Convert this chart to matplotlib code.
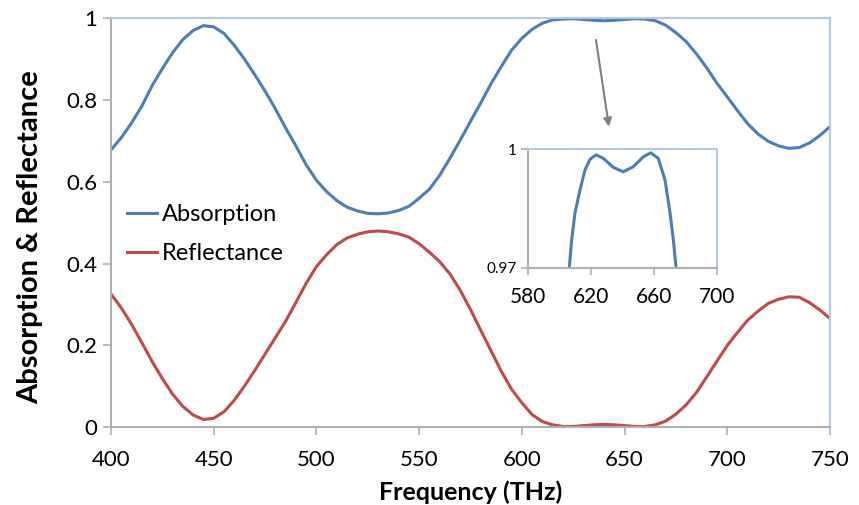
import numpy as np
import matplotlib
matplotlib.use('Agg')
import matplotlib.pyplot as plt

plt.rcParams['font.family'] = ['Lato', 'DejaVu Sans']

# frequency grid (THz) and curves
freq = list(range(400, 755, 5))

absorption = [0.678, 0.708, 0.744, 0.785, 0.835, 0.877, 0.916, 0.948, 0.970, 0.982,
              0.979, 0.963, 0.934, 0.900, 0.862, 0.822, 0.779, 0.732, 0.688, 0.642,
              0.604, 0.576, 0.554, 0.538, 0.529, 0.523, 0.522, 0.524, 0.530, 0.540,
              0.560, 0.582, 0.616, 0.658, 0.702, 0.748, 0.793, 0.840, 0.882, 0.922,
              0.951, 0.973, 0.988, 0.996, 0.998, 0.999, 0.997, 0.995, 0.994, 0.995,
              0.997, 0.999, 0.998, 0.994, 0.983, 0.965, 0.943, 0.913, 0.879, 0.841,
              0.808, 0.774, 0.742, 0.717, 0.699, 0.688, 0.682, 0.684, 0.695, 0.713,
              0.735]

reflectance = [0.326, 0.292, 0.252, 0.207, 0.161, 0.119, 0.081, 0.051, 0.030, 0.019,
               0.022, 0.038, 0.066, 0.101, 0.139, 0.179, 0.219, 0.259, 0.305, 0.352,
               0.393, 0.422, 0.447, 0.463, 0.472, 0.478, 0.480, 0.478, 0.473, 0.465,
               0.449, 0.428, 0.405, 0.375, 0.335, 0.288, 0.237, 0.187, 0.137, 0.093,
               0.060, 0.031, 0.014, 0.006, 0.002, 0.002, 0.004, 0.006, 0.007, 0.006,
               0.004, 0.002, 0.002, 0.006, 0.015, 0.032, 0.055, 0.085, 0.123, 0.162,
               0.200, 0.232, 0.262, 0.284, 0.303, 0.313, 0.319, 0.318, 0.305, 0.287,
               0.266]

# zoomed absorption peak (inset)
inset_freq = [604, 606.2, 607.7, 609.8, 613, 616.2, 619.4, 623.2, 627.8, 634.2, 640.5,
              646.9, 653.2, 657.9, 662.7, 667, 670.2, 672.3, 674, 676]
inset_abs = [0.962, 0.970, 0.977, 0.9838, 0.9897, 0.9948, 0.9975, 0.9986, 0.9977, 0.9954,
             0.9943, 0.9956, 0.9981, 0.9991, 0.9977, 0.9922, 0.9838, 0.977, 0.970, 0.962]

blue = '#4A7EBB'
red = '#BE4B48'
frame_blue = '#B4CBE6'
gray = '#AFAFAF'

fig = plt.figure(figsize=(8.59, 5.05), dpi=100)
ax = fig.add_axes([0.1292, 0.1539, 0.8370, 0.8099])

ax.plot(freq, absorption, color=blue, lw=2.2, label='Absorption', solid_joinstyle='round')
ax.plot(freq, reflectance, color=red, lw=2.2, label='Reflectance', solid_joinstyle='round')

ax.set_xlim(400, 750)
ax.set_ylim(0, 1)
ax.set_xticks(range(400, 751, 50))
ax.set_yticks([0, 0.2, 0.4, 0.6, 0.8, 1])
ax.set_yticklabels(['0', '0.2', '0.4', '0.6', '0.8', '1'])

for s in ['top', 'right']:
    ax.spines[s].set_color(frame_blue)
    ax.spines[s].set_linewidth(1.5)
for s in ['left', 'bottom']:
    ax.spines[s].set_color(gray)
    ax.spines[s].set_linewidth(1.5)
ax.tick_params(direction='out', length=6, width=1.2, color=gray, labelsize=16)
ax.tick_params(axis='x', pad=10)
ax.tick_params(axis='y', pad=4)

ax.set_xlabel('Frequency (THz)', fontsize=18, fontweight='bold', labelpad=8)
ax.set_ylabel('Absorption & Reflectance', fontsize=21, fontweight='bold')
ax.yaxis.set_label_coords(-0.094, 0.465)

ax.legend(loc='center left', bbox_to_anchor=(0.022, 0.472), frameon=False,
          fontsize=17, handlelength=1.3, handletextpad=0.2, labelspacing=0.75,
          borderpad=0, borderaxespad=0)

# arrow pointing to the inset
ax.annotate('', xy=(642.4, 0.735), xytext=(636.1, 0.947),
            arrowprops=dict(arrowstyle='-|>', color='#7F7F7F', lw=1.5,
                            mutation_scale=12, shrinkA=0, shrinkB=0))

# inset
ins = fig.add_axes([0.6147, 0.4699, 0.2200, 0.2345])
ins.plot(inset_freq, inset_abs, color=blue, lw=2.2, solid_joinstyle='round')
ins.set_xlim(580, 700)
ins.set_ylim(0.97, 1)
ins.set_xticks([580, 620, 660, 700])
ins.set_yticks([0.97, 1])
ins.set_yticklabels(['0.97', '1'])
for s in ['top', 'right']:
    ins.spines[s].set_color(frame_blue)
    ins.spines[s].set_linewidth(1.5)
for s in ['left', 'bottom']:
    ins.spines[s].set_color(gray)
    ins.spines[s].set_linewidth(1.5)
ins.tick_params(direction='out', length=5, width=1.2, color=gray)
ins.tick_params(axis='x', labelsize=15, pad=9)
ins.tick_params(axis='y', labelsize=11, pad=3)

fig.savefig('out.png', dpi=100)
